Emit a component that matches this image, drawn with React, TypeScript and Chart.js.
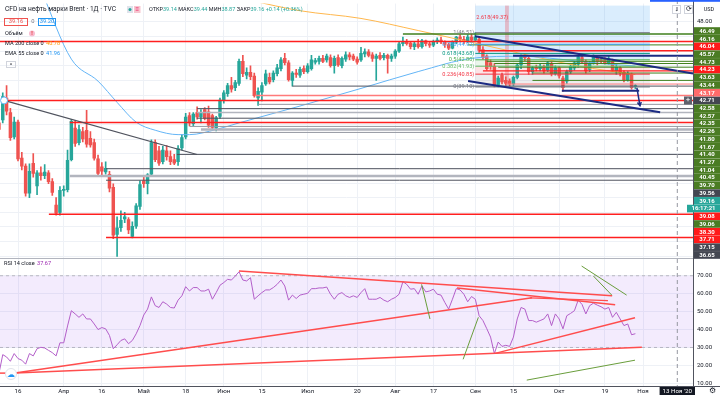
import React, { useEffect, useRef } from 'react';
import { Chart, registerables } from 'chart.js';

Chart.register(...registerables);

// ---------------- data ----------------
// daily candles [open, high, low, close], index 0 = 9 Mar 2020
const candles: [number, number, number, number][] = [
  [34.2, 35.0, 31.0, 33.3], [34.6, 38.3, 34.2, 37.8], [37.6, 39.3, 35.3, 35.8], [35.6, 36.2, 31.8, 32.2],
  [32.3, 35.0, 32.0, 34.3], [34.3, 34.6, 29.0, 29.3], [29.4, 30.2, 27.8, 28.3], [28.3, 28.6, 24.2, 24.6],
  [24.6, 28.6, 24.0, 27.6], [28.7, 30.0, 26.8, 27.3], [25.6, 27.7, 24.4, 27.4], [27.4, 28.2, 26.4, 27.0],
  [27.0, 28.5, 26.6, 27.5], [27.4, 27.7, 25.9, 26.2], [26.2, 26.6, 24.3, 24.7], [23.0, 24.0, 21.6, 21.9],
  [22.0, 25.5, 21.6, 25.0], [25.0, 25.6, 24.2, 25.1], [25.1, 30.5, 24.8, 29.1], [29.2, 34.7, 29.0, 34.4],
  [33.5, 34.5, 31.0, 31.4], [31.5, 33.9, 31.2, 33.3], [33.0, 33.6, 31.6, 32.0], [33.2, 35.9, 30.9, 31.3],
  [32.1, 33.0, 30.9, 31.2], [31.5, 32.0, 29.1, 29.4], [29.3, 29.8, 26.9, 27.3], [28.2, 28.8, 27.0, 27.6],
  [27.5, 28.9, 27.2, 28.0], [27.2, 27.6, 24.8, 25.3], [25.4, 25.9, 18.4, 18.9], [19.0, 21.4, 15.98, 19.9],
  [19.9, 22.2, 19.4, 20.9], [21.1, 22.0, 20.6, 21.4], [21.0, 21.3, 19.1, 19.6], [18.7, 20.7, 18.5, 20.1],
  [20.1, 23.2, 19.8, 22.9], [22.8, 26.3, 22.4, 25.8], [26.3, 26.9, 25.4, 25.9], [25.9, 27.3, 24.5, 27.1],
  [27.2, 31.9, 27.0, 31.5], [31.5, 31.9, 28.9, 29.2], [30.4, 31.0, 28.4, 28.7], [28.9, 31.0, 28.6, 30.5],
  [30.4, 31.1, 29.1, 29.6], [29.6, 30.4, 28.5, 28.9], [29.2, 29.9, 28.5, 28.7], [28.9, 31.1, 28.4, 30.7],
  [30.8, 32.6, 30.5, 32.2], [32.3, 35.5, 32.0, 35.0], [35.2, 35.6, 33.8, 34.2], [34.1, 35.6, 33.8, 35.4],
  [35.6, 36.4, 34.7, 35.0], [35.0, 36.0, 34.2, 35.6], [36.0, 36.3, 34.6, 34.8], [35.7, 36.5, 33.6, 33.9],
  [35.2, 35.4, 33.3, 33.6], [33.5, 35.1, 33.1, 34.9], [35.1, 37.6, 34.8, 37.3], [37.3, 38.6, 36.9, 38.3],
  [38.2, 39.6, 37.8, 39.3], [39.3, 40.4, 38.4, 38.8], [39.0, 40.0, 38.6, 39.7], [39.6, 42.9, 39.3, 42.6],
  [42.6, 43.4, 40.5, 40.9], [40.7, 41.7, 40.2, 41.1], [41.1, 42.0, 40.1, 40.5], [40.6, 41.0, 37.7, 37.9],
  [37.6, 39.0, 36.6, 38.5], [38.4, 39.7, 37.2, 39.3], [39.5, 41.4, 39.3, 40.9], [40.4, 41.0, 39.5, 39.8],
  [40.1, 41.3, 39.8, 41.0], [40.9, 42.2, 40.6, 41.7], [41.6, 43.1, 41.3, 42.8], [43.0, 43.7, 42.1, 42.4],
  [42.4, 42.7, 39.9, 40.1], [40.0, 41.2, 39.2, 41.0], [41.0, 41.5, 40.4, 40.8], [40.7, 41.8, 40.4, 41.5],
  [41.6, 42.0, 40.9, 41.2], [41.2, 42.3, 41.0, 42.0], [41.6, 43.4, 41.4, 42.8], [42.5, 43.0, 42.2, 42.7],
  [42.6, 43.3, 42.2, 43.0], [43.0, 43.4, 42.4, 42.6], [42.8, 43.6, 42.5, 43.3], [43.1, 43.5, 41.8, 42.0],
  [42.0, 43.3, 41.0, 43.0], [43.1, 43.5, 41.9, 42.1], [42.0, 43.2, 41.7, 43.0], [42.9, 43.9, 42.6, 43.5],
  [43.5, 43.8, 42.8, 43.2], [43.3, 43.6, 42.7, 42.9], [42.9, 43.2, 42.2, 42.5], [42.8, 44.5, 42.6, 43.7],
  [43.6, 44.3, 43.2, 43.9], [43.9, 44.2, 43.2, 43.4], [43.5, 43.8, 42.6, 43.0], [43.0, 43.6, 40.0, 43.3],
  [43.4, 43.8, 42.8, 43.0], [43.1, 43.7, 42.8, 43.4], [43.4, 43.6, 41.0, 43.0], [43.0, 43.6, 42.6, 43.3],
  [43.3, 44.2, 43.0, 44.0], [44.0, 45.2, 43.8, 45.0], [45.0, 45.9, 44.7, 45.2], [45.2, 45.6, 44.8, 45.0],
  [45.1, 45.3, 44.3, 44.6], [44.6, 45.2, 44.2, 45.0], [45.0, 45.6, 44.4, 44.6], [44.6, 45.6, 44.4, 45.4],
  [45.4, 45.5, 44.7, 45.0], [45.0, 45.2, 44.5, 44.8], [44.8, 45.5, 44.6, 45.3], [45.3, 45.8, 45.0, 45.5],
  [45.5, 45.9, 45.0, 45.3], [45.3, 45.4, 44.5, 44.9], [44.9, 45.1, 44.2, 44.4], [44.4, 45.4, 44.3, 45.2],
  [45.2, 46.0, 45.0, 45.9], [45.9, 46.2, 45.3, 45.6], [45.6, 46.0, 45.0, 45.3], [45.3, 46.2, 45.1, 45.9],
  [45.9, 46.3, 45.3, 45.5], [45.5, 46.51, 45.3, 45.9], [45.6, 45.9, 43.8, 44.1], [44.2, 44.6, 42.9, 43.1],
  [43.3, 43.5, 41.4, 41.6], [42.4, 42.8, 41.5, 41.9], [41.9, 42.3, 39.1, 39.4], [39.4, 40.6, 39.1, 40.3],
  [40.7, 41.0, 39.5, 39.8], [40.0, 40.5, 39.3, 39.6], [39.9, 40.2, 39.2, 39.5], [39.5, 40.6, 39.3, 40.4],
  [40.4, 42.3, 40.2, 42.1], [42.1, 43.5, 41.6, 43.2], [43.2, 43.6, 42.7, 43.1], [43.0, 43.2, 40.8, 41.2],
  [41.2, 41.9, 40.8, 41.7], [41.7, 42.1, 41.3, 41.6], [41.6, 42.2, 41.3, 41.9], [41.9, 42.1, 41.0, 41.3],
  [41.4, 42.6, 41.2, 42.4], [42.2, 42.5, 40.6, 40.9], [40.9, 42.0, 40.7, 41.7], [41.7, 41.9, 40.3, 40.6],
  [40.3, 40.6, 38.5, 39.0], [39.9, 41.4, 39.6, 41.2], [41.2, 42.1, 40.9, 41.9], [41.7, 42.6, 41.4, 42.4],
  [42.2, 43.4, 41.8, 43.2], [43.1, 43.3, 42.3, 42.5], [42.6, 42.8, 41.0, 41.3], [41.5, 42.6, 41.2, 42.3],
  [42.4, 43.5, 42.2, 43.2], [43.1, 43.4, 42.1, 42.6], [42.7, 43.1, 42.4, 42.6], [42.8, 43.1, 42.2, 42.4],
  [42.4, 43.3, 42.2, 42.9], [42.6, 42.9, 41.2, 41.4], [41.3, 42.2, 40.8, 41.8], [41.7, 41.9, 40.6, 41.1],
  [41.1, 41.3, 39.8, 40.1], [40.1, 41.2, 39.9, 40.9], [40.8, 41.0, 38.8, 39.02], [39.14, 39.44, 38.87, 39.16],
];

const rsiValues: number[] = [
  15.5, 26.0, 24.7, 22.3, 26.6, 23.8, 22.9, 20.7, 26.6, 25.3, 29.3, 30.1, 29.7, 28.4, 27.1, 25.3,
  32.6, 32.6, 42.0, 50.5, 48.7, 46.8, 48.7, 45.9, 45.9, 43.1, 40.0, 41.1, 40.4, 36.7, 29.3, 31.5,
  33.9, 34.8, 32.1, 33.9, 37.6, 42.2, 48.1, 51.4, 58.2, 53.3, 52.3, 55.5, 54.2, 52.3, 52.0, 56.4,
  58.8, 63.9, 61.5, 63.4, 63.4, 61.5, 61.5, 62.5, 56.9, 60.6, 64.7, 66.2, 68.0, 67.6, 69.8, 72.2,
  67.6, 67.1, 68.9, 56.9, 58.8, 60.6, 62.1, 62.1, 63.4, 65.2, 67.6, 64.3, 56.4, 59.2, 57.3, 59.2,
  59.7, 60.2, 62.8, 62.8, 63.2, 63.2, 63.7, 59.7, 56.9, 59.7, 60.6, 58.8, 57.9, 58.8, 57.9, 60.6,
  62.8, 56.9, 56.9, 56.9, 57.9, 56.4, 55.5, 56.9, 57.9, 59.7, 66.7, 65.2, 62.5, 62.8, 59.7, 64.3,
  61.0, 61.5, 62.5, 59.7, 59.2, 55.1, 51.4, 56.9, 62.8, 62.1, 59.7, 55.5, 58.4, 56.9, 47.7, 45.0,
  40.5, 35.8, 26.6, 33.0, 30.6, 31.2, 30.6, 35.8, 45.9, 52.3, 51.4, 45.0, 45.0, 44.1, 45.0, 45.9,
  48.7, 42.2, 48.7, 45.9, 40.4, 47.7, 49.0, 50.5, 56.4, 54.0, 48.7, 53.3, 54.7, 53.6, 52.7, 51.4,
  52.3, 46.8, 49.6, 45.9, 42.2, 43.1, 37.1, 37.67,
];

// moving averages read at a few dates: [day index, value]
const ema55Points: [number, number][] = [
  [11, 52.4], [19, 42.9], [26, 39.9], [31, 37.0], [36, 34.3], [41, 33.2], [47, 32.6], [50, 32.6],
  [57, 33.3], [63, 34.2], [79, 36.5], [95, 38.9], [110, 41.2], [124, 43.0], [137, 43.3], [147, 42.9],
  [158, 42.3], [167, 41.96],
];
const ma200Points: [number, number][] = [
  [66, 50.9], [79, 49.5], [95, 48.45], [110, 46.8], [126, 44.96], [140, 43.3], [152, 41.96], [167, 40.78],
];

const xTickIndex = [5, 17, 27, 38, 49, 59, 69, 81, 94, 104, 114, 125, 135, 147, 159, 169];
const xTickLabels = ['16', 'Апр', '16', 'Май', '18', 'Июн', '15', 'Июл', '20', 'Авг', '17', 'Сен', '15', 'Окт', '19', 'Ноя'];

const rsiTicks = [10, 20, 30, 40, 50, 60, 70];
const priceTicksShown = [48];

// horizontal rays: price, start day index, style key, width
const hLines: [number, number, string, number][] = [
  [45.30, 0, 'red', 1.5], [37.27, 1.3, 'red', 1.5], [34.26, 18.6, 'red', 1.5], [21.73, 13.1, 'red', 1.5],
  [18.58, 28.1, 'red', 1.5], [29.9, 46.7, 'dark', 1], [27.95, 28.1, 'dark', 1], [26.96, 18.6, 'lgray', 2.5],
  [26.38, 28.1, 'dark', 1], [39.22, 77, 'dark', 1], [37.95, 67.2, 'pink', 1.5], [36.73, 68, 'gray', 1],
  [36.15, 52, 'dark', 1], [35.61, 52, 'lgray', 1.5], [34.84, 52, 'dark', 1], [33.72, 50, 'gray', 1],
  [33.31, 53, 'lgray', 2.5], [32.9, 50, 'gray', 1],
  [46.32, 106, 'green', 1.5], [44.84, 123, 'green', 1], [44.03, 126, 'red', 1.5], [43.35, 134.9, 'navy', 2],
  [42.6, 128, 'green', 1], [42.3, 130, 'green', 1], [41.8, 131, 'green', 1], [41.3, 127, 'red', 1.2],
  [41.0, 140, 'green', 1], [40.0, 140, 'green', 1], [39.5, 133, 'pink', 1],
];

// segments in price pane: [i1, p1, i2, p2, style, width, mode]
const priceSegments: [number, number, number, number, string, number, string][] = [
  [1.33, 37.27, 51.97, 29.89, 'dark', 1.2, 'seg'],
  [124.9, 46.01, 173.5, 41.69, 'navy', 2, 'ray'],
  [123.1, 39.93, 173.5, 35.65, 'navy', 2, 'seg'],
  [147.7, 38.58, 168.0, 38.58, 'navy', 2, 'seg'],
  [167.4, 38.99, 168.2, 36.55, 'navy', 1.5, 'arrow'],
];

// segments in RSI pane
const rsiSegments: [number, number, number, number, string, number][] = [
  [0, 15.7, 4.21, 15.7, 'rsired', 1.5],
  [4.21, 15.7, 139.9, 57.7, 'rsired', 1.5],
  [4.21, 15.7, 168.7, 30.1, 'rsired', 1.5],
  [63.0, 72.6, 160.9, 58.8, 'rsired', 1.5],
  [130.2, 26.7, 166.9, 46.6, 'rsired', 1.5],
  [120.2, 63.2, 161.7, 53.8, 'rsired', 1.5],
  [139.3, 57.7, 159.8, 56.1, 'rsired', 1.2],
  [110.9, 65.2, 113.1, 45.9, 'olive', 1],
  [125.8, 46.8, 121.8, 23.4, 'olive', 1],
  [152.9, 75.4, 164.7, 59.2, 'olive', 1],
  [156.0, 69.8, 160.8, 59.2, 'olive', 1],
  [138.5, 11.8, 166.9, 22.9, 'olive', 1],
];

// fibonacci retracement
const fibHigh = 46.51;
const fibLow = 39.10;
const fibStart = 125;
const fibEnd = 170.8;
const fibLevels: [number, string][] = [
  [1, '#787b86'], [0.786, '#42a5f5'], [0.618, '#089981'], [0.5, '#4caf50'],
  [0.382, '#66bb6a'], [0.236, '#f23645'], [0, '#787b86'],
];
const fibExtText = '2.618(49.37)';

// right price-axis labels (stacked)
const axisLabels: [string, string][] = [
  ['46.49', 'g'], ['46.16', 'g'], ['46.04', 'r'], ['45.57', 'g'], ['44.73', 'g'], ['44.23', 'r'],
  ['43.63', 'g'], ['43.44', 'g'], ['43.17', 'lr'], ['42.71', 'd'], ['42.58', 'g'], ['42.57', 'g'],
  ['42.35', 'g'], ['42.26', 'g'], ['41.80', 'g'], ['41.67', 'g'], ['41.40', 'g'], ['41.27', 'g'],
  ['41.04', 'g'], ['40.45', 'g'], ['39.70', 'g'], ['39.56', 'd'], ['39.16', 't'], ['16:17:21', 't'],
  ['39.08', 'r'], ['39.06', 'g'], ['38.30', 'r'], ['37.71', 'r'], ['37.15', 'd'], ['36.65', 'd'],
];

const crosshairIndex = 178;
const crosshairLabel = "13 Ноя '20";
const bidAsk = ['39.16', '39.20'];

// ---------------- styles ----------------
const UP = '#26a69a';
const DOWN = '#ef5350';
const COLORS: Record<string, string> = {
  red: '#ff1f1f', dark: '#50535e', lgray: '#b2b5be', gray: '#9598a1', pink: '#ff7a7a',
  green: '#3f7f1c', navy: '#1c2b83', rsired: '#ff4d4d', olive: '#6a9e3c',
};
const LABEL_BG: Record<string, string> = {
  g: '#4a7c23', r: '#ff1a1a', lr: '#ff6b6b', d: '#434651', t: '#26a69a', n: '#1c2b83',
};
const FONT = 'Roboto, "Liberation Sans", sans-serif';
const PLOT_RIGHT_W = 27;
const SPLIT_Y = 258;

function txt(ctx: CanvasRenderingContext2D, s: string, x: number, y: number, color: string, size: number, align: CanvasTextAlign = 'left', weight = '') {
  ctx.font = `${weight} ${size}px ${FONT}`;
  ctx.fillStyle = color;
  ctx.textAlign = align;
  ctx.textBaseline = 'middle';
  ctx.fillText(s, x, y);
  return ctx.measureText(s).width;
}

function seg(ctx: CanvasRenderingContext2D, x1: number, y1: number, x2: number, y2: number, color: string, w: number, dash: number[] = []) {
  ctx.beginPath();
  ctx.strokeStyle = color;
  ctx.lineWidth = w;
  ctx.setLineDash(dash);
  ctx.moveTo(x1, y1);
  ctx.lineTo(x2, y2);
  ctx.stroke();
  ctx.setLineDash([]);
}

const drawingsPlugin = {
  id: 'drawings',
  beforeDraw(chart: any) {
    const { ctx, width, height } = chart;
    ctx.save();
    ctx.fillStyle = '#ffffff';
    ctx.fillRect(0, 0, width, height);
    ctx.restore();
  },
  beforeDatasetsDraw(chart: any) {
    const { ctx, chartArea: ca, scales } = chart;
    const X = (i: number) => scales.x.getPixelForValue(i);
    const P = (p: number) => scales.y.getPixelForValue(p);
    const R = (v: number) => scales.yR.getPixelForValue(v);
    ctx.save();
    // RSI band
    ctx.fillStyle = 'rgba(149, 76, 233, 0.11)';
    ctx.fillRect(ca.left, R(70), ca.right - ca.left, R(30) - R(70));
    seg(ctx, ca.left, R(70), ca.right, R(70), 'rgba(120,123,134,0.45)', 1, [3, 3]);
    seg(ctx, ca.left, R(30), ca.right, R(30), 'rgba(120,123,134,0.45)', 1, [3, 3]);
    // price pane fills
    ctx.beginPath();
    ctx.rect(ca.left, 0, ca.right - ca.left, SPLIT_Y);
    ctx.clip();
    const xs = X(fibStart), xe = X(fibEnd);
    ctx.fillStyle = 'rgba(33,150,243,0.17)';
    ctx.fillRect(xs, P(50.2), xe - xs, P(fibLow + 0.5 * (fibHigh - fibLow)) - P(50.2));
    for (let k = 0; k < fibLevels.length - 1; k++) {
      const a = fibLow + fibLevels[k][0] * (fibHigh - fibLow);
      const b = fibLow + fibLevels[k + 1][0] * (fibHigh - fibLow);
      if (fibLevels[k][0] > 0.5) continue;
      ctx.fillStyle = fibLevels[k + 1][1] + '22';
      ctx.fillRect(xs, P(a), xe - xs, P(b) - P(a));
    }
    ctx.fillStyle = 'rgba(242,54,69,0.28)';
    ctx.fillRect(X(132.8), P(50.2), X(133.8) - X(132.8), P(39.4) - P(50.2));
    ctx.restore();
  },
  afterDatasetsDraw(chart: any) {
    const { ctx, chartArea: ca, scales } = chart;
    const X = (i: number) => scales.x.getPixelForValue(i);
    const P = (p: number) => scales.y.getPixelForValue(p);
    const R = (v: number) => scales.yR.getPixelForValue(v);
    ctx.save();
    ctx.beginPath();
    ctx.rect(ca.left, 0, ca.right - ca.left, SPLIT_Y);
    ctx.clip();
    for (const [p, from, style, w] of hLines) {
      seg(ctx, X(from), P(p), ca.right, P(p), COLORS[style], w);
    }
    // fib levels
    const xs = X(fibStart), xe = X(fibEnd);
    for (const [lvl, color] of fibLevels) {
      const v = fibLow + lvl * (fibHigh - fibLow);
      seg(ctx, xs, P(v), xe, P(v), color, 1);
      txt(ctx, `${lvl}(${v.toFixed(2)})`, xs - 1, P(v), color, 5.6, 'right');
    }
    txt(ctx, fibExtText, xs + 1, P(48.6), '#f23645', 5.6, 'left');
    for (const [i1, p1, i2, p2, style, w, mode] of priceSegments) {
      let x1 = X(i1), y1 = P(p1), x2 = X(i2), y2 = P(p2);
      if (mode === 'ray') {
        const k = (y2 - y1) / (x2 - x1);
        y2 = y1 + k * (ca.right - x1);
        x2 = ca.right;
      }
      seg(ctx, x1, y1, x2, y2, COLORS[style], w);
      if (mode === 'arrow') {
        const ang = Math.atan2(y2 - y1, x2 - x1);
        ctx.beginPath();
        ctx.strokeStyle = COLORS[style];
        ctx.lineWidth = w;
        ctx.moveTo(x2 - 4 * Math.cos(ang - 0.5), y2 - 4 * Math.sin(ang - 0.5));
        ctx.lineTo(x2, y2);
        ctx.lineTo(x2 - 4 * Math.cos(ang + 0.5), y2 - 4 * Math.sin(ang + 0.5));
        ctx.stroke();
      }
    }
    // anchor circle
    ctx.beginPath();
    ctx.strokeStyle = '#64b5f6';
    ctx.lineWidth = 1;
    ctx.fillStyle = '#ffffff';
    ctx.arc(X(priceSegments[0][0]), P(priceSegments[0][1]), 3.5, 0, Math.PI * 2);
    ctx.fill();
    ctx.stroke();
    ctx.restore();

    ctx.save();
    ctx.beginPath();
    ctx.rect(ca.left, SPLIT_Y, ca.right - ca.left, ca.bottom - SPLIT_Y);
    ctx.clip();
    for (const [i1, v1, i2, v2, style, w] of rsiSegments) {
      seg(ctx, X(i1), R(v1), X(i2), R(v2), COLORS[style], w);
    }
    ctx.restore();
  },
  afterDraw(chart: any) {
    const { ctx, chartArea: ca, scales, width } = chart;
    const X = (i: number) => scales.x.getPixelForValue(i);
    const P = (p: number) => scales.y.getPixelForValue(p);
    ctx.save();
    // frame lines
    seg(ctx, 0, SPLIT_Y + 0.5, width, SPLIT_Y + 0.5, '#b2b5be', 1);
    seg(ctx, 0, ca.bottom + 0.5, width, ca.bottom + 0.5, '#50535e', 1);
    seg(ctx, ca.right + 0.5, 0, ca.right + 0.5, ca.bottom, '#50535e', 1);
    // price axis tick labels (the price scale itself has no width of its own)
    for (const t of priceTicksShown) txt(ctx, t.toFixed(2), ca.right + 4, P(t), '#131722', 6);
    // crosshair
    const cx = X(crosshairIndex);
    seg(ctx, cx, 0, cx, ca.bottom, '#9598a1', 1, [4, 3]);
    ctx.font = `6.2px ${FONT}`;
    const cw = ctx.measureText(crosshairLabel).width + 6;
    ctx.fillStyle = '#131722';
    ctx.fillRect(cx - cw / 2, ca.bottom + 1, cw, 8);
    txt(ctx, crosshairLabel, cx, ca.bottom + 5, '#ffffff', 6.2, 'center');

    // right price labels
    const step = 7.72;
    axisLabels.forEach(([s, kind], k) => {
      const y = 31 + k * step;
      const wide = s.length > 6;
      const x0 = wide ? ca.right - 6 : ca.right + 1;
      ctx.fillStyle = LABEL_BG[kind];
      ctx.fillRect(x0, y - 3.8, width - x0, 7.6);
      txt(ctx, s, (x0 + width) / 2, y + 0.3, '#ffffff', 6, 'center', 'bold');
      if (s === '42.71') {
        ctx.fillStyle = '#5d606b';
        ctx.fillRect(ca.right - 9, y - 4, 8, 8);
        txt(ctx, '+', ca.right - 5, y, '#ffffff', 8, 'center');
      }
    });
    // top-right controls
    ctx.fillStyle = '#2962ff';
    ctx.fillRect(650, 0, width - 650, 1.8);
    ctx.strokeStyle = '#d1d4dc';
    ctx.lineWidth = 1;
    ctx.strokeRect(672.5, 5.5, 8, 8);
    ctx.strokeRect(684.5, 5.5, 8, 8);
    txt(ctx, '↓', 676.5, 9.5, '#131722', 7, 'center');
    txt(ctx, '⟳', 688.5, 9.5, '#131722', 7, 'center');
    txt(ctx, 'USD', 709, 10, '#131722', 5.5, 'center');
    txt(ctx, '⚙', 712, 391, '#131722', 8, 'center');

    // legend
    const last = candles[candles.length - 1];
    const prevClose = candles[candles.length - 2][3];
    txt(ctx, 'CFD на нефть марки Brent · 1Д · TVC', 5, 9.5, '#131722', 6.6);
    ctx.fillStyle = '#e0e3eb';
    ctx.fillRect(127, 6, 6, 7);
    ctx.beginPath(); ctx.fillStyle = '#26a69a'; ctx.arc(130, 9.5, 1.5, 0, Math.PI * 2); ctx.fill();
    ctx.fillStyle = '#f7c6d0';
    ctx.fillRect(134, 6, 6.5, 7);
    txt(ctx, '≡', 137.3, 9.5, '#e91e63', 6, 'center');
    const chg = last[3] - prevClose;
    const parts: [string, string][] = [
      ['ОТКР', '#131722'], [last[0].toFixed(2), UP], [' МАКС', '#131722'], [last[1].toFixed(2), UP],
      [' МИН', '#131722'], [last[2].toFixed(2), UP], [' ЗАКР', '#131722'], [last[3].toFixed(2), UP],
      [` ${chg >= 0 ? '+' : ''}${chg.toFixed(2)} (${chg >= 0 ? '+' : ''}${(chg / prevClose * 100).toFixed(2)}%)`, UP],
    ];
    let x = 149;
    for (const [s, c] of parts) x += txt(ctx, s, x, 9.5, c, 5.5);
    // bid / ask
    ctx.lineWidth = 1;
    ctx.strokeStyle = '#ef5350'; ctx.strokeRect(4.5, 18.5, 23, 7);
    txt(ctx, bidAsk[0], 16, 22, '#ef5350', 5.8, 'center');
    txt(ctx, '0', 33, 22, '#787b86', 5.8, 'center');
    ctx.strokeStyle = '#2196f3'; ctx.strokeRect(38.5, 18.5, 17, 7);
    txt(ctx, bidAsk[1], 47, 22, '#2196f3', 5.8, 'center');
    txt(ctx, 'Объём', 5, 33.5, '#131722', 5.6);
    ctx.beginPath(); ctx.fillStyle = '#f8bbd0'; ctx.arc(32, 33.5, 3, 0, Math.PI * 2); ctx.fill();
    txt(ctx, '!', 32, 33.5, '#e53935', 5.5, 'center', 'bold');
    x = 5;
    x += txt(ctx, 'MA 200 close 0 ', x, 43.5, '#131722', 5.6);
    txt(ctx, ma200Points[ma200Points.length - 1][1].toFixed(2), x + 1, 43.5, '#ff9800', 5.6);
    x = 5;
    x += txt(ctx, 'EMA 55 close 0 ', x, 53.3, '#131722', 5.6);
    txt(ctx, ema55Points[ema55Points.length - 1][1].toFixed(2), x + 1, 53.3, '#2196f3', 5.6);
    // collapse button
    ctx.strokeStyle = '#d1d4dc'; ctx.strokeRect(6.5, 61.5, 9, 6);
    txt(ctx, '^', 11, 65, '#131722', 6, 'center');
    // RSI legend
    x = 4;
    x += txt(ctx, 'RSI 14 close ', x, 264, '#131722', 5.6);
    txt(ctx, rsiValues[rsiValues.length - 1].toFixed(2), x + 1, 264, '#9c27b0', 5.6);
    // cloud icon
    ctx.beginPath(); ctx.fillStyle = '#ffffff'; ctx.strokeStyle = '#e0e3eb';
    ctx.arc(11, 374, 5.5, 0, Math.PI * 2); ctx.fill(); ctx.stroke();
    txt(ctx, '☁', 11, 374.5, '#2196f3', 8, 'center');
    ctx.restore();
  },
};

export default function App() {
  const ref = useRef<HTMLCanvasElement | null>(null);
  useEffect(() => {
    document.body.style.margin = '0';
    const canvas = ref.current!;
    const bodies = candles.map((c, i) => ({ x: i, y: [c[0], c[3]] }));
    const wicks = candles.map((c, i) => ({ x: i, y: [c[2], c[1]] }));
    const colorOf = (i: number) => (candles[i][3] >= candles[i][0] ? UP : DOWN);
    const chart = new Chart(canvas, {
      type: 'line',
      data: {
        datasets: [
          {
            type: 'line', data: rsiValues.map((v, i) => ({ x: i, y: v })), yAxisID: 'yR', xAxisID: 'x',
            borderColor: '#b35fc9', borderWidth: 1, pointRadius: 0, tension: 0,
          } as any,
          {
            type: 'line', data: ema55Points.map(([i, v]) => ({ x: i, y: v })), yAxisID: 'y', xAxisID: 'x',
            borderColor: '#64b5f6', borderWidth: 1, pointRadius: 0, cubicInterpolationMode: 'monotone',
          } as any,
          {
            type: 'line', data: ma200Points.map(([i, v]) => ({ x: i, y: v })), yAxisID: 'y', xAxisID: 'x',
            borderColor: '#ffb74d', borderWidth: 1, pointRadius: 0, cubicInterpolationMode: 'monotone',
          } as any,
          {
            type: 'bar', data: bodies, yAxisID: 'y', xAxisID: 'x', barThickness: 2.8, minBarLength: 1,
            grouped: false, backgroundColor: (c: any) => colorOf(c.dataIndex), borderWidth: 0,
          } as any,
          {
            type: 'bar', data: wicks, yAxisID: 'y', xAxisID: 'x', barThickness: 1, grouped: false,
            backgroundColor: (c: any) => colorOf(c.dataIndex), borderWidth: 0,
          } as any,
        ],
      },
      options: {
        animation: false,
        responsive: false,
        devicePixelRatio: 1,
        events: [],
        layout: { padding: 0 },
        plugins: { legend: { display: false }, tooltip: { enabled: false } },
        scales: {
          x: {
            type: 'linear', position: 'bottom', min: 0.2755, max: 182.12, offset: false,
            afterBuildTicks: (s: any) => { s.ticks = xTickIndex.map((v) => ({ value: v })); },
            afterFit: (s: any) => { s.height = 9; },
            ticks: {
              autoSkip: false, maxRotation: 0, padding: 2, color: '#131722',
              font: { size: 6.2, family: FONT },
              callback: (v: any) => { const k = xTickIndex.indexOf(v); return k >= 0 ? xTickLabels[k] : null; },
            },
            grid: { color: '#eef1f6', drawTicks: false, offset: false },
            border: { display: false },
          },
          y: {
            type: 'linear', position: 'right', min: -1.689, max: 50.473,
            afterFit: (s: any) => { s.width = 0; },
            ticks: {
              stepSize: 2, padding: 0, includeBounds: false, autoSkip: false, color: '#131722', font: { size: 6, family: FONT },
              callback: (v: any) => (v < 47 && Math.abs(v % 2) < 1e-6 ? '' : (Math.abs(v % 2) < 1e-6 && v < 49 ? '' : null)),
            },
            grid: {
              drawTicks: true, tickLength: 4, tickColor: 'rgba(0,0,0,0)',
              color: (c: any) => (c.tick && c.tick.value >= 16 && c.tick.value <= 50 ? '#eef1f6' : 'rgba(0,0,0,0)'),
            },
            border: { display: false },
          },
          yR: {
            type: 'linear', position: 'right', min: 8.51, max: 221.77,
            afterFit: (s: any) => { s.width = PLOT_RIGHT_W; },
            ticks: {
              stepSize: 10, padding: 0, includeBounds: false, autoSkip: false, color: '#131722', font: { size: 6, family: FONT },
              callback: (v: any) => (rsiTicks.some((t) => Math.abs(t - v) < 1e-6) ? Number(v).toFixed(2) : null),
            },
            grid: { drawTicks: true, tickLength: 4, tickColor: 'rgba(0,0,0,0)', color: '#eef1f6' },
            border: { display: false },
          },
        },
      } as any,
      plugins: [drawingsPlugin as any],
    });
    return () => chart.destroy();
  }, []);
  return (
    <div style={{ width: 720, height: 395 }}>
      <canvas ref={ref} width={720} height={395} style={{ display: 'block', width: 720, height: 395 }} />
    </div>
  );
}
